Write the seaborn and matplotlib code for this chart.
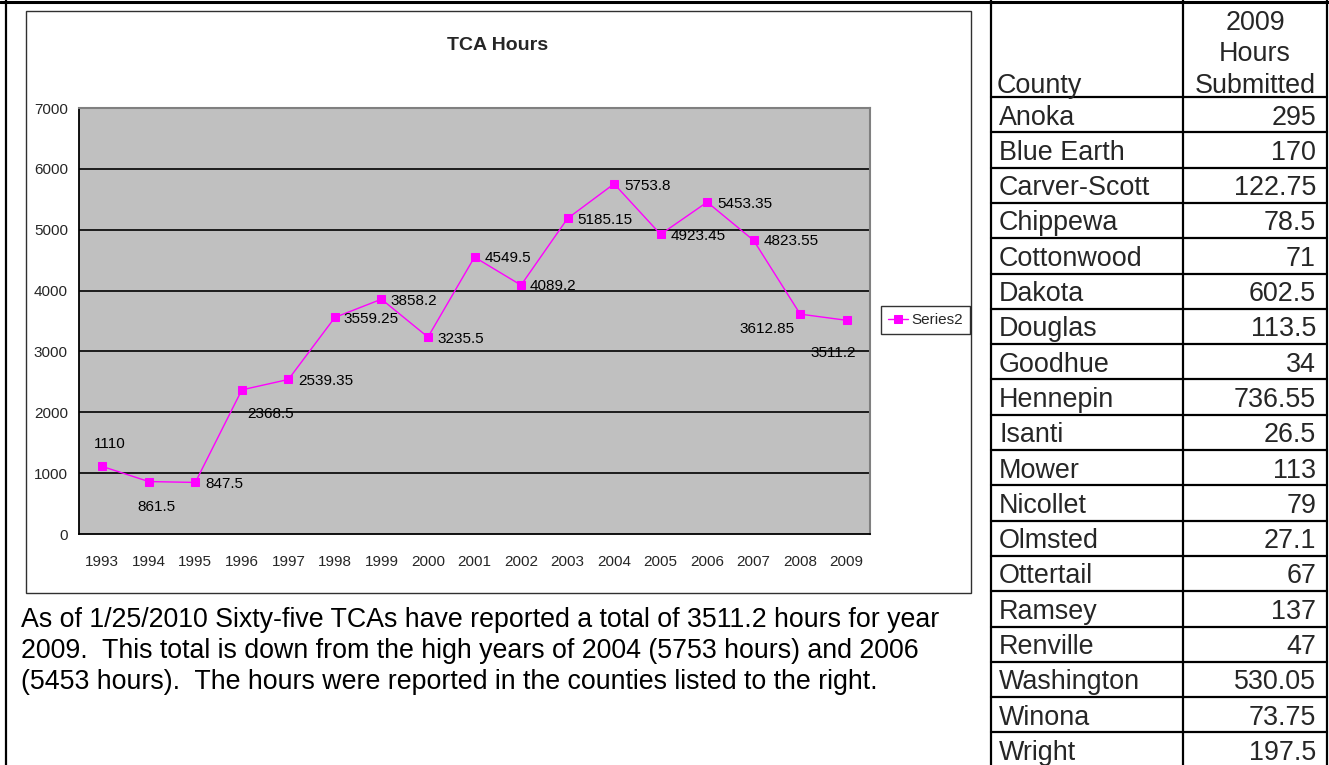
import matplotlib
matplotlib.use("Agg")
import matplotlib.pyplot as plt
import seaborn as sns
import pandas as pd
from matplotlib import font_manager
from matplotlib.patches import Rectangle

# data
years = ['1993', '1994', '1995', '1996', '1997', '1998', '1999', '2000', '2001',
         '2002', '2003', '2004', '2005', '2006', '2007', '2008', '2009']
hours = [1110, 861.5, 847.5, 2368.5, 2539.35, 3559.25, 3858.2, 3235.5, 4549.5,
         4089.2, 5185.15, 5753.8, 4923.45, 5453.35, 4823.55, 3612.85, 3511.2]
counties = ['Anoka', 'Blue Earth', 'Carver-Scott', 'Chippewa', 'Cottonwood', 'Dakota',
            'Douglas', 'Goodhue', 'Hennepin', 'Isanti', 'Mower', 'Nicollet', 'Olmsted',
            'Ottertail', 'Ramsey', 'Renville', 'Washington', 'Winona', 'Wright']
county_hours = [295, 170, 122.75, 78.5, 71, 602.5, 113.5, 34, 736.55, 26.5, 113, 79,
                27.1, 67, 137, 47, 530.05, 73.75, 197.5]
y_ticks = [0, 1000, 2000, 3000, 4000, 5000, 6000, 7000]
note_lines = [
    'As of 1/25/2010 Sixty-five TCAs have reported a total of 3511.2 hours for year',
    '2009.  This total is down from the high years of 2004 (5753 hours) and 2006',
    '(5453 hours).  The hours were reported in the counties listed to the right.',
]

# label placement (pixels from the marker: right, down, alignment)
label_offsets = [(7, -22, 'center'), (8, 25, 'center'), (10, 1.5, 'left'), (5, 24, 'left'),
                 (10, 2, 'left'), (9, 2, 'left'), (9, 2, 'left'), (9, 2, 'left'),
                 (10, 1, 'left'), (9, 1, 'left'), (10, 2, 'left'), (10, 2, 'left'),
                 (10, 2, 'left'), (10, 2, 'left'), (10, 1, 'left'), (-6, 15, 'right'),
                 (-14, 33, 'center')]

sns.set_style("white")
installed = {f.name for f in font_manager.fontManager.ttflist}
if 'Liberation Sans Narrow' in installed:
    chart_font, chart_size, title_size = 'Liberation Sans Narrow', 12.5, 15
else:
    chart_font, chart_size, title_size = 'Liberation Sans', 11, 14
plt.rcParams['font.family'] = ['Liberation Sans', 'DejaVu Sans']

W, H = 1329, 765
fig = plt.figure(figsize=(W / 100, H / 100), dpi=100)
fig.patch.set_facecolor('white')

# page background: borders, note text, county table
bg = fig.add_axes([0, 0, 1, 1], zorder=0)
bg.set_xlim(0, W)
bg.set_ylim(H, 0)
bg.axis('off')

bg.plot([0, W], [2, 2], color='black', lw=2.2)
for x in [6, 991, 1183, 1327]:
    bg.plot([x, x], [0, H], color='black', lw=1.6)
bg.add_patch(Rectangle((26, 11), 945, 582, fill=False, edgecolor='#303030', lw=1.0))

for i, line in enumerate(note_lines):
    bg.text(21, 627 + 31 * i, line, fontsize=19.3, va='baseline', ha='left', color='black')

bg.text(997, 93, 'County', fontsize=19.4, va='baseline', ha='left')
for txt, yb in zip(['2009', 'Hours', 'Submitted'], [30, 61, 93]):
    bg.text(1255, yb, txt, fontsize=19.4, va='baseline', ha='center')

row_top, row_h = 97, 35.3
for k, (name, val) in enumerate(zip(counties, county_hours)):
    top = row_top + row_h * k
    bg.plot([991, 1327], [top, top], color='black', lw=1.6)
    bg.text(999, top + 27.5, name, fontsize=19.4, va='baseline', ha='left')
    bg.text(1316, top + 27.5, f'{val:g}', fontsize=19.4, va='baseline', ha='right')

fig.text(498 / W, 1 - 45 / H, 'TCA Hours', fontsize=title_size, fontweight='bold',
         ha='center', va='center', family=chart_font)

# the chart itself
ax = fig.add_axes([79 / W, 1 - 534 / H, (870 - 79) / W, (534 - 108) / H], zorder=1)
ax.set_facecolor('#C0C0C0')
df = pd.DataFrame({'pos': range(len(years)), 'hours': hours})
sns.lineplot(data=df, x='pos', y='hours', ax=ax, color='#FF00FF', lw=1.0,
             marker='s', markersize=6, markeredgecolor='#FF00FF', label='Series2')

ax.set_xlim(-0.5, len(years) - 0.5)
ax.set_ylim(0, 7000)
ax.set_yticks(y_ticks)
ax.set_yticklabels([str(t) for t in y_ticks], family=chart_font, fontsize=chart_size)
ax.set_xticks([i - 0.5 for i in range(len(years) + 1)])
ax.set_xticklabels([])
ax.set_xticks(range(len(years)), minor=True)
ax.set_xticklabels(years, minor=True, family=chart_font, fontsize=chart_size)
ax.tick_params(axis='x', which='major', direction='out', length=4.5, width=1, color='black')
ax.tick_params(axis='x', which='minor', length=0, pad=15)
ax.tick_params(axis='y', direction='out', length=4.5, width=1, color='black', pad=3.5)
ax.set_xlabel('')
ax.set_ylabel('')

for t in y_ticks[1:-1]:
    ax.axhline(t, color='black', lw=1.2, zorder=1)
for side in ['left', 'bottom']:
    ax.spines[side].set_color('black')
    ax.spines[side].set_linewidth(1.3)
for side in ['top', 'right']:
    ax.spines[side].set_color('#808080')
    ax.spines[side].set_linewidth(1.5)

for i, (v, (dx, dy, ha)) in enumerate(zip(hours, label_offsets)):
    ax.annotate(f'{v:g}', (i, v), xytext=(dx, -dy), textcoords='offset pixels',
                ha=ha, va='center', fontsize=chart_size, family=chart_font, color='black')

leg = ax.legend(loc='center left', bbox_to_anchor=(881 / W, 1 - 320 / H),
                bbox_transform=fig.transFigure, frameon=True, fancybox=False,
                handlelength=1.3, handletextpad=0.25, borderpad=0.45, borderaxespad=0,
                prop={'family': chart_font, 'size': chart_size})
leg.get_frame().set_edgecolor('black')
leg.get_frame().set_linewidth(1.0)

fig.savefig('out.png', dpi=100, facecolor='white')
